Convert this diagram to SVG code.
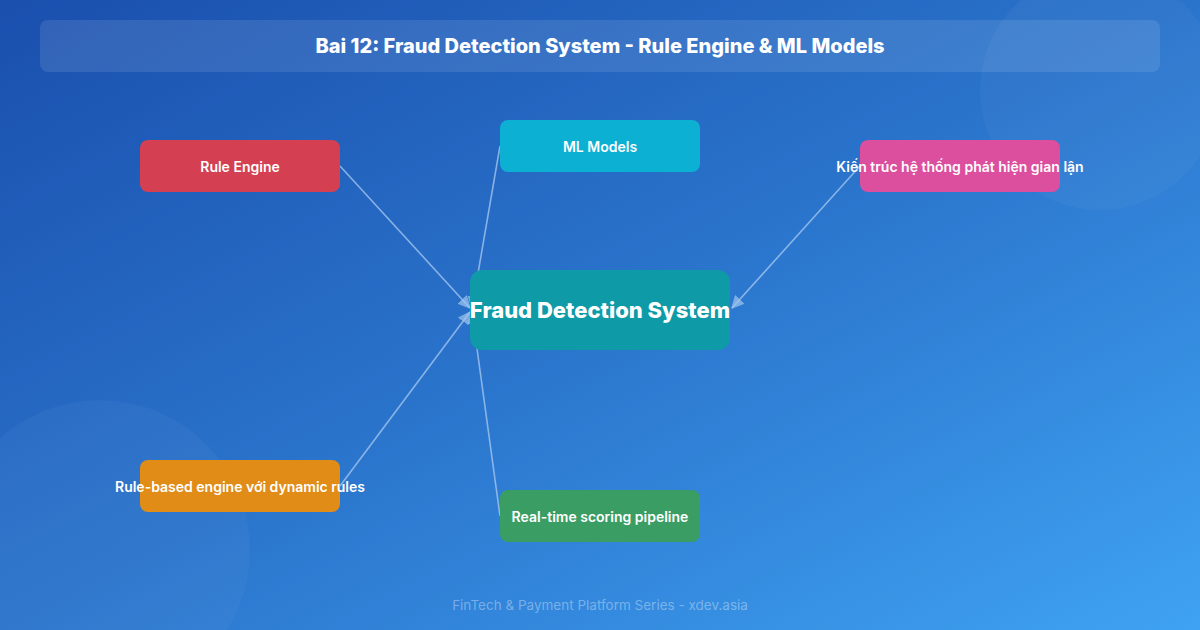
<svg xmlns="http://www.w3.org/2000/svg" width="1200" height="630" viewBox="0 0 1200 630">
<defs>
<linearGradient id="bg" x1="0" y1="0" x2="1" y2="1">
<stop offset="0" stop-color="#1a4fae"/>
<stop offset="0.5" stop-color="#2a74cc"/>
<stop offset="1" stop-color="#3fa2f2"/>
</linearGradient>
<marker id="arr" viewBox="0 0 10 10" refX="9" refY="5" markerWidth="13" markerHeight="13" markerUnits="userSpaceOnUse" orient="auto">
<path d="M0,0 L10,5 L0,10 z" fill="#9fc4f0" fill-opacity="0.7"/>
</marker>
<style>
.node rect{rx:8;ry:8}
.lbl{font-family:Inter,"Noto Sans",sans-serif;font-weight:600;font-size:14px;fill:#ffffff;text-anchor:middle;dominant-baseline:central}
.edge{stroke:#a9c9f2;stroke-opacity:0.75;stroke-width:1.6;fill:none;marker-end:url(#arr)}
</style>
</defs>
<rect width="1200" height="630" fill="url(#bg)"/>
<circle cx="1100" cy="90" r="120" fill="#ffffff" fill-opacity="0.035"/>
<circle cx="100" cy="550" r="150" fill="#ffffff" fill-opacity="0.035"/>
<g id="title">
<rect x="40" y="20" width="1120" height="52" rx="8" fill="#ffffff" fill-opacity="0.1"/>
<text x="600" y="46" font-family="Inter,'Noto Sans',sans-serif" font-weight="800" font-size="20" fill="#ffffff" text-anchor="middle" dominant-baseline="central">Bai 12: Fraud Detection System - Rule Engine &amp; ML Models</text>
</g>
<g id="connectors">
<line class="edge" x1="340" y1="166" x2="470" y2="308"/>
<line class="edge" x1="500" y1="146" x2="472" y2="308"/>
<line class="edge" x1="340" y1="486" x2="470" y2="312"/>
<line class="edge" x1="500" y1="516" x2="472" y2="312"/>
<line class="edge" x1="860" y1="166" x2="732" y2="308"/>
</g>
<g id="n-center" class="node">
<rect x="470" y="270" width="260" height="80" fill="#0f9aa8" style="rx:12px;ry:12px"/>
<text class="lbl" x="600" y="310" style="font-size:22px;font-weight:800">Fraud Detection System</text>
</g>
<g id="n-rule" class="node">
<rect x="140" y="140" width="200" height="52" fill="#d43f52"/>
<text class="lbl" x="240" y="166">Rule Engine</text>
</g>
<g id="n-ml" class="node">
<rect x="500" y="120" width="200" height="52" fill="#0bb0d3"/>
<text class="lbl" x="600" y="146">ML Models</text>
</g>
<g id="n-arch" class="node">
<rect x="860" y="140" width="200" height="52" fill="#dc4e9e"/>
<text class="lbl" x="960" y="166">Kiến trúc hệ thống phát hiện gian lận</text>
</g>
<g id="n-rulebased" class="node">
<rect x="140" y="460" width="200" height="52" fill="#e08c17"/>
<text class="lbl" x="240" y="486">Rule-based engine với dynamic rules</text>
</g>
<g id="n-realtime" class="node">
<rect x="500" y="490" width="200" height="52" fill="#3a9e64"/>
<text class="lbl" x="600" y="516">Real-time scoring pipeline</text>
</g>
<text x="600" y="605" font-family="Inter,'Noto Sans',sans-serif" font-size="13.5" fill="#ffffff" fill-opacity="0.35" text-anchor="middle" dominant-baseline="central">FinTech &amp; Payment Platform Series - xdev.asia</text>
</svg>
